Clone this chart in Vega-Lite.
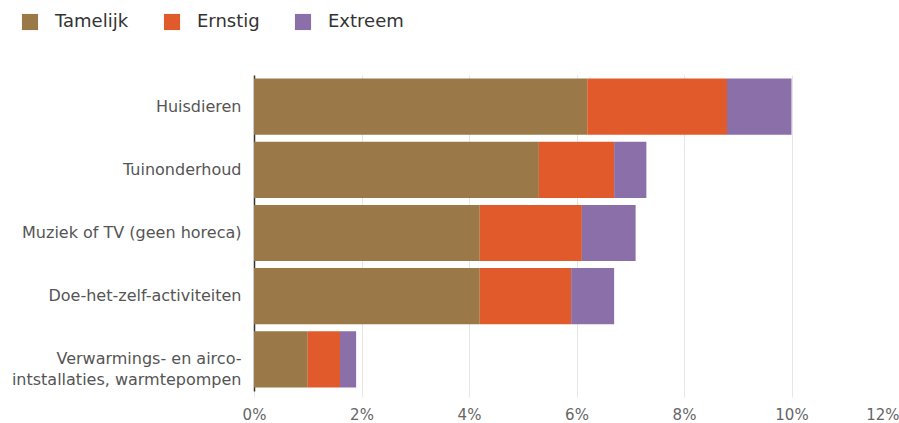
{
  "$schema": "https://vega.github.io/schema/vega-lite/v6.json",
  "autosize": {"type": "none"},
  "width": 645,
  "height": 316,
  "padding": {"left": 254, "top": 75, "right": 0, "bottom": 32},
  "background": "white",
  "config": {"view": {"stroke": null}, "font": "DejaVu Sans"},
  "data": {"values": [
    {"cat": "Huisdieren", "lvl": "Tamelijk", "o": 1, "v": 0.062},
    {"cat": "Huisdieren", "lvl": "Ernstig", "o": 2, "v": 0.026},
    {"cat": "Huisdieren", "lvl": "Extreem", "o": 3, "v": 0.012},
    {"cat": "Tuinonderhoud", "lvl": "Tamelijk", "o": 1, "v": 0.053},
    {"cat": "Tuinonderhoud", "lvl": "Ernstig", "o": 2, "v": 0.014},
    {"cat": "Tuinonderhoud", "lvl": "Extreem", "o": 3, "v": 0.006},
    {"cat": "Muziek of TV (geen horeca)", "lvl": "Tamelijk", "o": 1, "v": 0.042},
    {"cat": "Muziek of TV (geen horeca)", "lvl": "Ernstig", "o": 2, "v": 0.019},
    {"cat": "Muziek of TV (geen horeca)", "lvl": "Extreem", "o": 3, "v": 0.010},
    {"cat": "Doe-het-zelf-activiteiten", "lvl": "Tamelijk", "o": 1, "v": 0.042},
    {"cat": "Doe-het-zelf-activiteiten", "lvl": "Ernstig", "o": 2, "v": 0.017},
    {"cat": "Doe-het-zelf-activiteiten", "lvl": "Extreem", "o": 3, "v": 0.008},
    {"cat": "Verwarmings- en airco-installaties, warmtepompen", "lvl": "Tamelijk", "o": 1, "v": 0.010},
    {"cat": "Verwarmings- en airco-installaties, warmtepompen", "lvl": "Ernstig", "o": 2, "v": 0.006},
    {"cat": "Verwarmings- en airco-installaties, warmtepompen", "lvl": "Extreem", "o": 3, "v": 0.003}
  ]},
  "mark": {"type": "bar"},
  "encoding": {
    "y": {
      "field": "cat", "type": "nominal",
      "sort": ["Huisdieren", "Tuinonderhoud", "Muziek of TV (geen horeca)", "Doe-het-zelf-activiteiten", "Verwarmings- en airco-installaties, warmtepompen"],
      "scale": {"paddingInner": 0.11, "paddingOuter": 0.055},
      "axis": {
        "title": null, "ticks": false, "domain": true, "domainColor": "#333", "domainWidth": 1.5,
        "labelFont": "DejaVu Sans", "labelFontSize": 16, "labelColor": "#555", "labelPadding": 13, "labelLimit": 300,
        "labelLineHeight": 21,
        "labelExpr": "datum.label == 'Verwarmings- en airco-installaties, warmtepompen' ? ['Verwarmings- en airco-', 'intstallaties, warmtepompen'] : datum.label"
      }
    },
    "x": {
      "field": "v", "type": "quantitative", "stack": "zero",
      "scale": {"domain": [0, 0.12], "nice": false},
      "axis": {
        "title": null, "values": [0, 0.02, 0.04, 0.06, 0.08, 0.1, 0.12], "format": ".0%",
        "domain": false, "grid": true, "gridColor": "#e6e6e6", "ticks": true, "tickColor": "#e6e6e6", "tickSize": 6,
        "labelFont": "DejaVu Sans", "labelFontSize": 15, "labelColor": "#666", "labelPadding": 10,
        "labelFlush": false, "labelOverlap": false,
        "labelAlign": {"expr": "datum.value >= 0.12 ? 'right' : 'center'"}
      }
    },
    "color": {
      "field": "lvl", "type": "nominal",
      "scale": {"domain": ["Tamelijk", "Ernstig", "Extreem"], "range": ["#9a7848", "#e05a2b", "#8b6fa8"]},
      "legend": {
        "title": null, "orient": "none", "legendX": -233, "legendY": -62, "direction": "horizontal",
        "symbolType": "square", "symbolSize": 260, "symbolStrokeWidth": 0, "symbolOpacity": 1,
        "labelFont": "DejaVu Sans", "labelFontSize": 18, "labelColor": "#333", "labelOffset": 16,
        "columnPadding": 34
      }
    },
    "order": {"field": "o", "type": "quantitative"}
  }
}
